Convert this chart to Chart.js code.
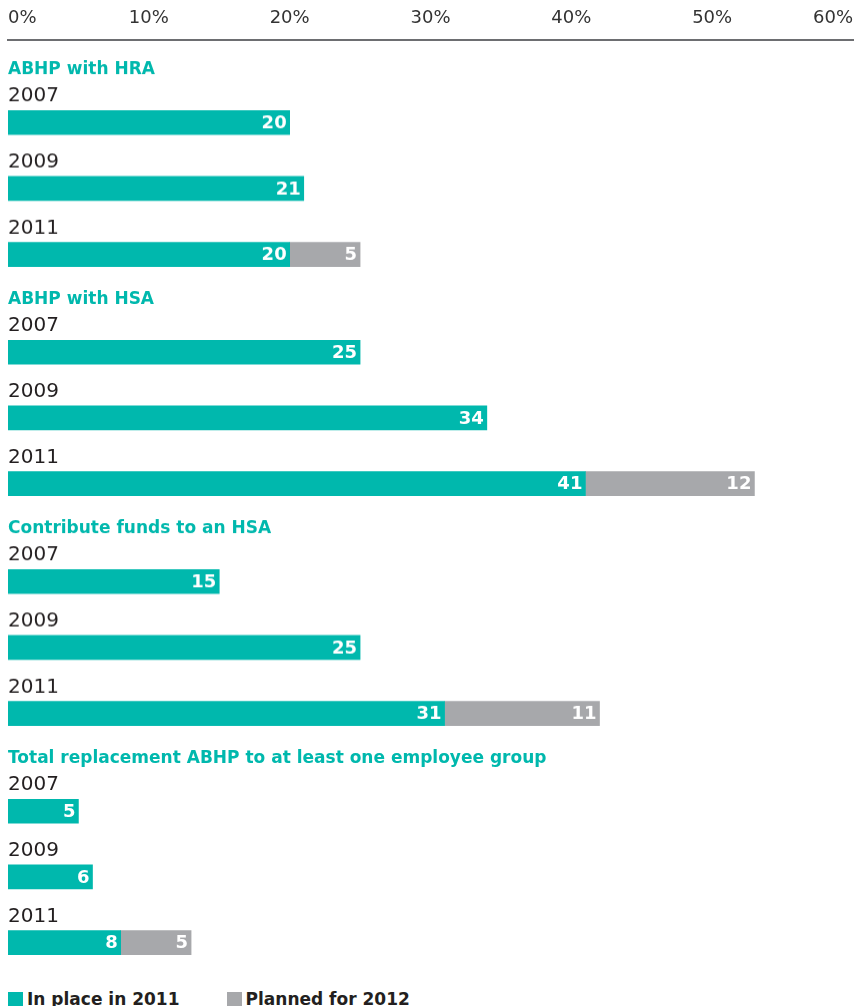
<!DOCTYPE html>
<html>
<head>
<meta charset="utf-8">
<script src="https://cdn.jsdelivr.net/npm/chart.js@4/dist/chart.umd.min.js"></script>
<style>
  body { margin: 0; background: #fff; }
  #wrap { position: relative; width: 854px; height: 1006px; overflow: hidden; }
  .box { position: absolute; left: 0; width: 854px; }
  #legend { position: absolute; left: 8px; top: 989px; display: flex; align-items: center;
            font: bold 17px "DejaVu Sans", sans-serif; color: #231f20; }
  #legend .item { display: flex; align-items: center; margin-right: 47px; }
  #legend .swatch { width: 15px; height: 15px; margin-right: 4px; }
</style>
</head>
<body>
<div id="wrap">
  <div class="box" id="axisBox" style="top:0;height:57px"><canvas id="axis"></canvas></div>
  <div id="legend"></div>
</div>
<script>
// survey results, % of employers
const years = ['2007', '2009', '2011'];
const seriesNames = ['In place in 2011', 'Planned for 2012'];

const hraInPlace = [20, 21, 20];
const hraPlanned = [null, null, 5];
const hsaInPlace = [25, 34, 41];
const hsaPlanned = [null, null, 12];
const fundsInPlace = [15, 25, 31];
const fundsPlanned = [null, null, 11];
const totalInPlace = [5, 6, 8];
const totalPlanned = [null, null, 5];

const groups = [
  { name: 'ABHP with HRA', inPlace: hraInPlace, planned: hraPlanned },
  { name: 'ABHP with HSA', inPlace: hsaInPlace, planned: hsaPlanned },
  { name: 'Contribute funds to an HSA', inPlace: fundsInPlace, planned: fundsPlanned },
  { name: 'Total replacement ABHP to at least one employee group', inPlace: totalInPlace, planned: totalPlanned }
];

const TEAL = '#00b8ad';
const GREY = '#a7a8ab';
const TEXT = '#231f20';
const FONT = '"DejaVu Sans", sans-serif';
const GROUP_TOP = 57;
const GROUP_H = 229.5;

// white numbers at the right end of each bar segment
const barValues = {
  id: 'barValues',
  afterDatasetsDraw(chart) {
    const ctx = chart.ctx;
    ctx.save();
    ctx.font = 'bold 18px ' + FONT;
    ctx.fillStyle = '#fff';
    ctx.textAlign = 'right';
    ctx.textBaseline = 'middle';
    chart.data.datasets.forEach((ds, di) => {
      chart.getDatasetMeta(di).data.forEach((bar, i) => {
        const v = ds.data[i];
        if (v == null) return;
        ctx.fillText(String(v), bar.x - 3, bar.y + 1);
      });
    });
    ctx.restore();
  }
};

// shared percentage axis along the top
new Chart(document.getElementById('axis'), {
  type: 'bar',
  data: { labels: [], datasets: [] },
  options: {
    indexAxis: 'y',
    responsive: true,
    maintainAspectRatio: false,
    animation: false,
    layout: { padding: { left: 8, right: 1, top: 0 } },
    scales: {
      x: {
        position: 'top',
        min: 0,
        max: 60,
        grid: { display: false, drawTicks: false },
        border: { color: '#6d6e71', width: 2 },
        ticks: {
          stepSize: 10,
          align: 'inner',
          padding: 11,
          color: '#333',
          font: { family: FONT, size: 18 },
          callback: v => v + '%'
        },
        afterFit(scale) {
          scale.height = 40;
          scale.paddingLeft = 0;
          scale.paddingRight = 0;
        }
      },
      y: { display: false }
    },
    plugins: { legend: { display: false }, tooltip: { enabled: false } }
  }
});

const wrap = document.getElementById('wrap');
groups.forEach((g, gi) => {
  const box = document.createElement('div');
  box.className = 'box';
  box.style.top = (GROUP_TOP + gi * GROUP_H) + 'px';
  box.style.height = GROUP_H + 'px';
  const canvas = document.createElement('canvas');
  box.appendChild(canvas);
  wrap.appendChild(box);

  new Chart(canvas, {
    type: 'bar',
    data: {
      labels: years,
      datasets: [
        { label: seriesNames[0], data: g.inPlace, backgroundColor: TEAL, barThickness: 24 },
        { label: seriesNames[1], data: g.planned, backgroundColor: GREY, barThickness: 24 }
      ]
    },
    options: {
      indexAxis: 'y',
      responsive: true,
      maintainAspectRatio: false,
      animation: false,
      layout: { padding: { left: 8, right: 1 } },
      scales: {
        x: { display: false, stacked: true, min: 0, max: 60 },
        y: {
          stacked: true,
          grid: { display: false, drawTicks: false },
          border: { display: false },
          ticks: {
            mirror: true,
            padding: 0,
            labelOffset: -26,
            color: TEXT,
            font: { family: FONT, size: 20 }
          },
          afterFit(scale) {
            scale.paddingTop = 0;
            scale.paddingBottom = 0;
          }
        }
      },
      plugins: {
        legend: { display: false },
        tooltip: { enabled: false },
        title: {
          display: true,
          text: g.name,
          align: 'start',
          color: TEAL,
          font: { family: FONT, size: 17, weight: 'bold' },
          padding: { top: 2, bottom: 10 }
        }
      }
    },
    plugins: [barValues]
  });
});

// legend row
const legend = document.getElementById('legend');
[TEAL, GREY].forEach((c, i) => {
  const item = document.createElement('div');
  item.className = 'item';
  item.innerHTML = '<span class="swatch" style="background:' + c + '"></span>' + seriesNames[i];
  legend.appendChild(item);
});
</script>
</body>
</html>
